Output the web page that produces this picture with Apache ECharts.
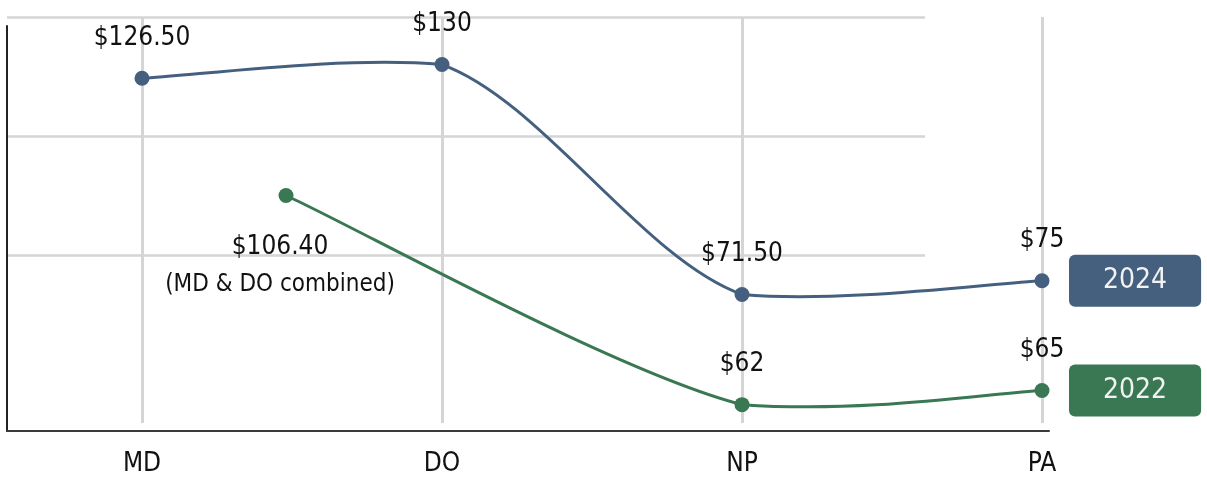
<!DOCTYPE html>
<html><head><meta charset="utf-8">
<script src="https://cdn.jsdelivr.net/npm/echarts@6/dist/echarts.min.js"></script>
<style>html,body{margin:0;padding:0;background:#fff}#c{width:1207px;height:479px}</style>
</head><body><div id="c"></div>
<script>
// ---- data ----
const categories = ['MD', 'DO', 'NP', 'PA'];
const seriesNames = ['2024', '2022'];
const x2024 = [0, 1, 2, 3];
const v2024 = [126.5, 130, 71.5, 75];
const x2022 = [0.48, 2, 3];          // first 2022 point sits between MD and DO
const v2022 = [106.4, 62, 65];
const note2022 = '(MD & DO combined)';

// ---- styles ----
const FONT = '"DejaVu Sans Condensed", "Liberation Sans Narrow", sans-serif';
const C24 = '#45607f';
const C22 = '#3a7753';
const GRIDC = '#d5d5d5';
const fmt = v => '$' + (Number.isInteger(v) ? String(v) : v.toFixed(2));

const chart = echarts.init(document.getElementById('c'), null, {renderer: 'canvas'});

const pairs = (xs, vs) => xs.map((x, i) => [x, vs[i]]);
const d2024 = pairs(x2024, v2024);
const d2022 = pairs(x2022, v2022).map((v, i) => {
  const item = {value: v};
  if (i === 0) {
    item.label = {
      position: 'bottom', distance: 25, offset: [-6, 0], align: 'center',
      formatter: p => '{v|' + fmt(p.value[1]) + '}\n{n|' + note2022 + '}',
      rich: {
        v: {fontSize: 26, fontFamily: FONT, color: '#111', lineHeight: 38, align: 'center'},
        n: {fontSize: 24, fontFamily: FONT, color: '#111', lineHeight: 38, align: 'center'}
      }
    };
  }
  return item;
});

const labelBase = {
  show: true, position: 'top', distance: 20,
  fontSize: 26, fontFamily: FONT, color: '#111',
  formatter: p => fmt(p.value[1])
};
const endLabel = (color) => ({
  show: true, formatter: '{a}', color: '#f2f2f2', fontSize: 28, fontFamily: FONT,
  backgroundColor: color, borderRadius: 6, padding: [12, 34], distance: 27
});

// Smooth (Catmull-Rom) curve drawn segment by segment through the axis scales;
// control points may overshoot the segment's vertical span only slightly.
const OVERSHOOT = 9;
const curveSeries = (name, data, color, yAxisIndex) => ({
  type: 'custom', name: name + ' curve', xAxisIndex: 0, yAxisIndex: yAxisIndex,
  data: data, encode: {x: 0, y: 1}, z: 2, silent: true,
  renderItem: (params, api) => {
    const i = params.dataIndexInside, n = params.dataInsideLength;
    if (i >= n - 1) return {type: 'group', children: []};
    const P = k => { k = Math.max(0, Math.min(n - 1, k)); return api.coord([api.value(0, k), api.value(1, k)]); };
    const p0 = P(i - 1), p1 = P(i), p2 = P(i + 1), p3 = P(i + 2);
    const lo = Math.min(p1[1], p2[1]) - OVERSHOOT, hi = Math.max(p1[1], p2[1]) + OVERSHOOT;
    const cl = y => Math.max(lo, Math.min(hi, y));
    return {
      type: 'bezierCurve',
      shape: {
        x1: p1[0], y1: p1[1], x2: p2[0], y2: p2[1],
        cpx1: p1[0] + (p2[0] - p0[0]) / 6, cpy1: cl(p1[1] + (p2[1] - p0[1]) / 6),
        cpx2: p2[0] - (p3[0] - p1[0]) / 6, cpy2: cl(p2[1] - (p3[1] - p1[1]) / 6)
      },
      style: {stroke: color, lineWidth: 3, fill: null}
    };
  }
});

chart.setOption({
  animation: false,
  backgroundColor: '#ffffff',
  grid: [
    {left: 142, right: 165, top: 17, bottom: 56},   // data
    {left: 7, right: 158, top: 26, bottom: 48},     // frame axes
    {left: 7, right: 282, top: 17, height: 238}     // horizontal guide lines
  ],
  xAxis: [
    {gridIndex: 0, type: 'value', min: 0, max: categories.length - 1, interval: 1,
     axisLine: {show: false}, axisTick: {show: false},
     axisLabel: {formatter: v => categories[v] || '', margin: 28, fontSize: 26, fontFamily: FONT, color: '#111'},
     splitLine: {show: true, lineStyle: {color: GRIDC, width: 3}}},
    {gridIndex: 1, type: 'value', min: 0, max: 1,
     axisLine: {show: true, lineStyle: {color: '#3a3a3a', width: 2}},
     axisTick: {show: false}, axisLabel: {show: false}, splitLine: {show: false}},
    {gridIndex: 2, type: 'value', show: false}
  ],
  yAxis: [
    {gridIndex: 0, type: 'value', min: 38.8, max: 142.1, show: false},
    {gridIndex: 0, type: 'value', min: 58.1, max: 144.3, show: false},
    {gridIndex: 1, type: 'value', min: 0, max: 1,
     axisLine: {show: true, lineStyle: {color: '#222', width: 2}},
     axisTick: {show: false}, axisLabel: {show: false}, splitLine: {show: false}},
    {gridIndex: 2, type: 'value', min: 0, max: 2, interval: 1,
     axisLine: {show: false}, axisTick: {show: false}, axisLabel: {show: false},
     splitLine: {show: true, lineStyle: {color: GRIDC, width: 2.5}}}
  ],
  series: [
    curveSeries(seriesNames[0], d2024, C24, 0),
    curveSeries(seriesNames[1], pairs(x2022, v2022), C22, 1),
    {name: seriesNames[0], type: 'line', xAxisIndex: 0, yAxisIndex: 0,
     data: d2024, symbol: 'circle', symbolSize: 15,
     itemStyle: {color: C24}, lineStyle: {color: C24, width: 3, opacity: 0},
     label: labelBase, endLabel: endLabel(C24), z: 3},
    {name: seriesNames[1], type: 'line', xAxisIndex: 0, yAxisIndex: 1,
     data: d2022, symbol: 'circle', symbolSize: 15,
     itemStyle: {color: C22}, lineStyle: {color: C22, width: 3, opacity: 0},
     label: labelBase, endLabel: endLabel(C22), z: 3}
  ]
});
</script>
</body></html>
